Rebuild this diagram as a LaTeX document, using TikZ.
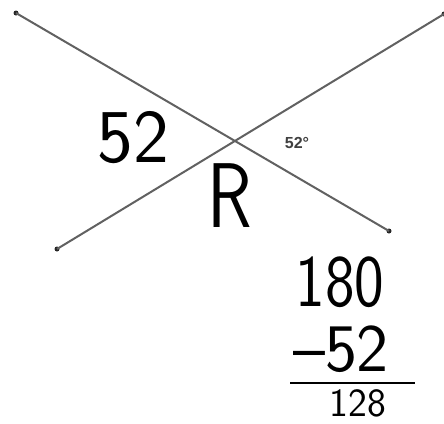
\documentclass[tikz,border=0pt]{standalone}
\usepackage{fontspec}
\setmainfont{Liberation Sans}
\usetikzlibrary{positioning}

\begin{document}
\begin{tikzpicture}[
  x=1pt, y=-1pt,
  % Line and label styles
  seg/.style={draw=black!62, line width=2pt},
  tip/.style={circle, fill=black!85, inner sep=0pt, minimum size=5pt},
  hand/.style={font=\sffamily\fontsize{76}{76}\selectfont, inner sep=0pt, anchor=base},
  deg/.style={font=\fontsize{16}{16}\selectfont\bfseries, text=black!75,
              inner sep=0pt, anchor=base},
]
\clip (0,0) rectangle (444,423);
\fill[white] (0,0) rectangle (444,423);

% ---- LINES ----
\node[tip] (a1) at (16,13)   {};
\node[tip] (a2) at (389,231) {};
\node[tip] (b1) at (57,249)  {};
\node[tip] (b2) at (444,14)  {};
\draw[seg] (a1.center) -- (a2.center);
\draw[seg] (b1.center) -- (b2.center);

% given angle
\node[deg] (given) at (297,148) {52°};

% ---- HANDWRITING ----
\node[hand] (left)  at (133,162) {52};
\node[hand, font=\sffamily\fontsize{92}{92}\selectfont, xscale=0.8] (rname) at (230,227) {R};

% subtraction
\node[hand, font=\sffamily\fontsize{74}{74}\selectfont, xscale=0.85] (top) at (340,306) {180};
\node[hand, font=\sffamily\fontsize{68}{68}\selectfont] (sub) at (341,371) {--52};
\coordinate (barl) at (290,383);
\coordinate (barr) at (415,383);
\draw[line width=2pt] (barl) -- (barr);
\node[hand, font=\sffamily\fontsize{40}{40}\selectfont] (res) at (358,416) {128};

\end{tikzpicture}
\end{document}
